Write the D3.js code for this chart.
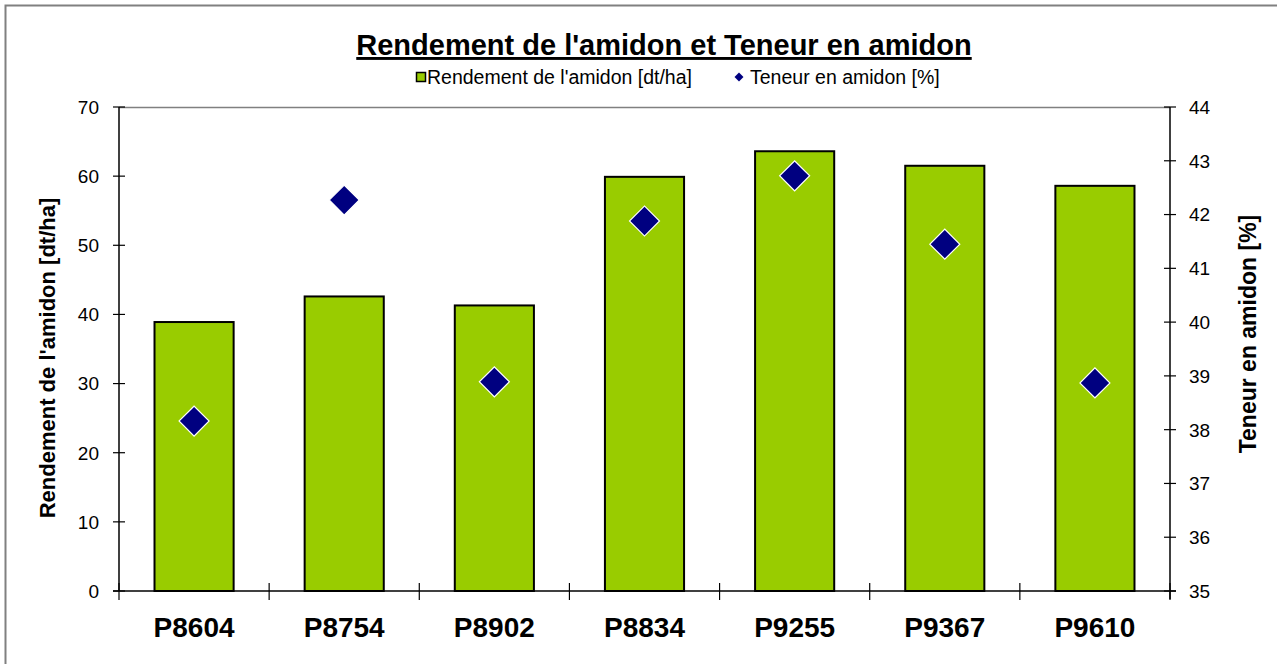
<!DOCTYPE html>
<html>
<head>
<meta charset="utf-8">
<script src="https://cdn.jsdelivr.net/npm/d3@7"></script>
<style>
  body { margin: 0; background: #fff; }
  svg { display: block; font-family: Arial, "Liberation Sans", sans-serif; }
</style>
</head>
<body>
<svg id="chart" width="1277" height="664"></svg>
<script>
const categories = ["P8604", "P8754", "P8902", "P8834", "P9255", "P9367", "P9610"];
const rendement = [38.9, 42.6, 41.3, 59.9, 63.6, 61.5, 58.6];
const teneur = [38.16, 42.27, 38.89, 41.88, 42.72, 41.45, 38.87];
const leftTicks = [0, 10, 20, 30, 40, 50, 60, 70];
const rightTicks = [35, 36, 37, 38, 39, 40, 41, 42, 43, 44];

const svg = d3.select("#chart");
const plot = { left: 119, right: 1170, top: 107, bottom: 591 };

// outer frame
svg.append("rect")
    .attr("x", 5.5).attr("y", 5.5)
    .attr("width", 1300).attr("height", 700)
    .attr("fill", "#fff")
    .attr("stroke", "#808080")
    .attr("stroke-width", 2);

const x = d3.scaleBand()
    .domain(categories)
    .range([plot.left, plot.right])
    .paddingInner(0.473)
    .paddingOuter(0.2365);

const yL = d3.scaleLinear().domain([0, 70]).range([plot.bottom, plot.top]);
const yR = d3.scaleLinear().domain([35, 44]).range([plot.bottom, plot.top]);

// top border of plot area
svg.append("line")
    .attr("x1", plot.left).attr("x2", plot.right)
    .attr("y1", plot.top + 0.5).attr("y2", plot.top + 0.5)
    .attr("stroke", "#808080").attr("stroke-width", 1.5);

// bars
svg.append("g").selectAll("rect")
    .data(rendement)
    .join("rect")
    .attr("x", (d, i) => x(categories[i]))
    .attr("y", d => yL(d))
    .attr("width", x.bandwidth())
    .attr("height", d => yL(0) - yL(d))
    .attr("fill", "#99cc00")
    .attr("stroke", "#000")
    .attr("stroke-width", 2);

// left axis
const gl = svg.append("g");
gl.append("line")
    .attr("x1", plot.left).attr("x2", plot.left)
    .attr("y1", plot.top).attr("y2", plot.bottom)
    .attr("stroke", "#000").attr("stroke-width", 1.5);
gl.selectAll(".tk").data(leftTicks).join("line")
    .attr("x1", plot.left - 6).attr("x2", plot.left + 6)
    .attr("y1", d => yL(d)).attr("y2", d => yL(d))
    .attr("stroke", "#000").attr("stroke-width", 1.2);
gl.selectAll("text").data(leftTicks).join("text")
    .attr("x", 99).attr("y", d => yL(d))
    .attr("dy", "0.36em")
    .attr("text-anchor", "end")
    .attr("font-size", 19)
    .text(d => d);

// right axis
const gr = svg.append("g");
gr.append("line")
    .attr("x1", plot.right).attr("x2", plot.right)
    .attr("y1", plot.top).attr("y2", plot.bottom + 8)
    .attr("stroke", "#000").attr("stroke-width", 1.5);
gr.selectAll(".tk").data(rightTicks).join("line")
    .attr("x1", plot.right - 6).attr("x2", plot.right + 6)
    .attr("y1", d => yR(d)).attr("y2", d => yR(d))
    .attr("stroke", "#000").attr("stroke-width", 1.2);
gr.selectAll("text").data(rightTicks).join("text")
    .attr("x", 1189).attr("y", d => yR(d))
    .attr("dy", "0.36em")
    .attr("text-anchor", "start")
    .attr("font-size", 19)
    .text(d => d);

// bottom axis
const gb = svg.append("g");
gb.append("line")
    .attr("x1", plot.left - 6).attr("x2", plot.right + 6)
    .attr("y1", plot.bottom).attr("y2", plot.bottom)
    .attr("stroke", "#000").attr("stroke-width", 1.5);
gb.selectAll(".sep").data(d3.range(categories.length + 1)).join("line")
    .attr("x1", i => plot.left + i * x.step())
    .attr("x2", i => plot.left + i * x.step())
    .attr("y1", plot.bottom - 8).attr("y2", plot.bottom + 9)
    .attr("stroke", "#000").attr("stroke-width", 1.2);
gb.selectAll("text").data(categories).join("text")
    .attr("x", d => x(d) + x.bandwidth() / 2)
    .attr("y", 637)
    .attr("text-anchor", "middle")
    .attr("font-size", 28)
    .attr("font-weight", "bold")
    .text(d => d);

// diamonds
const diamond = d3.symbol().type(d3.symbolSquare).size(450);
svg.append("g").selectAll("path")
    .data(teneur)
    .join("path")
    .attr("d", diamond)
    .attr("transform", (d, i) => `translate(${x(categories[i]) + x.bandwidth() / 2},${yR(d)}) rotate(45)`)
    .attr("fill", "#000080")
    .attr("stroke", "#fff")
    .attr("stroke-width", 1.2);

// title
svg.append("text")
    .attr("x", 664).attr("y", 55)
    .attr("text-anchor", "middle")
    .attr("font-size", 29)
    .attr("font-weight", "bold")
    .attr("text-decoration", "underline")
    .text("Rendement de l'amidon et Teneur en amidon");

// legend
const lg = svg.append("g");
lg.append("rect")
    .attr("x", 416.5).attr("y", 72.5).attr("width", 9).attr("height", 9)
    .attr("fill", "#99cc00").attr("stroke", "#000").attr("stroke-width", 1.5);
lg.append("text")
    .attr("x", 427).attr("y", 84)
    .attr("font-size", 19.5)
    .text("Rendement de l'amidon [dt/ha]");
lg.append("path")
    .attr("d", d3.symbol().type(d3.symbolSquare).size(40))
    .attr("transform", "translate(739,77) rotate(45)")
    .attr("fill", "#000080");
lg.append("text")
    .attr("x", 750).attr("y", 84)
    .attr("font-size", 19.5)
    .text("Teneur en amidon [%]");

// axis titles
svg.append("text")
    .attr("transform", "translate(55,358) rotate(-90)")
    .attr("text-anchor", "middle")
    .attr("font-size", 22)
    .attr("font-weight", "bold")
    .text("Rendement de l'amidon [dt/ha]");
svg.append("text")
    .attr("transform", "translate(1256,334) rotate(-90)")
    .attr("text-anchor", "middle")
    .attr("font-size", 23)
    .attr("font-weight", "bold")
    .text("Teneur en amidon [%]");
</script>
</body>
</html>
